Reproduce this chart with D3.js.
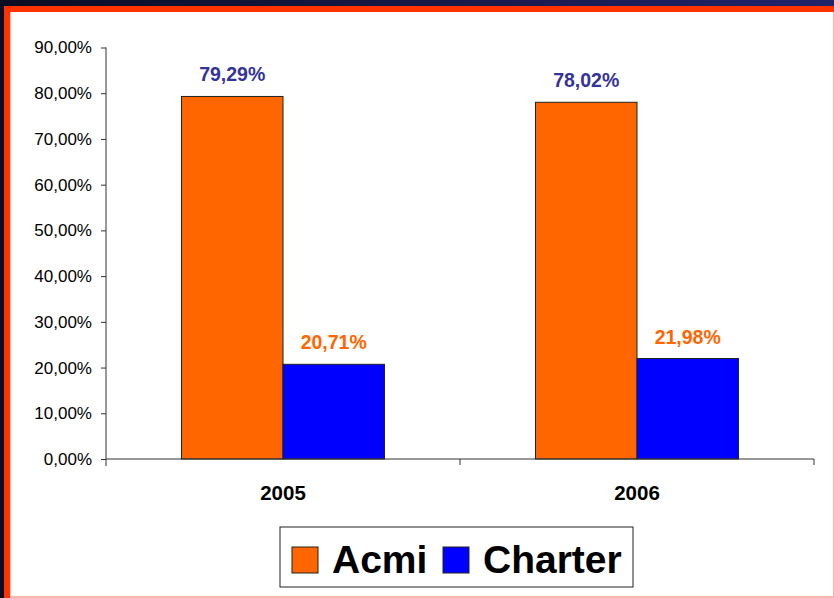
<!DOCTYPE html>
<html>
<head>
<meta charset="utf-8">
<script src="https://cdn.jsdelivr.net/npm/d3@7"></script>
<style>
  html, body { margin: 0; padding: 0; background: #1b1b4c; }
  #chart { width: 834px; height: 598px; }
  text { font-family: "Liberation Sans", Arial, sans-serif; }
</style>
</head>
<body>
<div id="chart"></div>
<script>
// chart data
const years = ["2005", "2006"];
const series = ["Acmi", "Charter"];
const acmi = [0.7929, 0.7802];
const charter = [0.2071, 0.2198];
const yTicks = [0, 0.1, 0.2, 0.3, 0.4, 0.5, 0.6, 0.7, 0.8, 0.9];

const colors = { Acmi: "#ff6600", Charter: "#0000ff" };
const labelColors = { Acmi: "#333399", Charter: "#ff6600" };

let width = 834;
let height = 598;

// italian style numbers, comma as decimal mark
const locale = d3.formatLocale({ decimal: ",", thousands: ".", grouping: [3], currency: ["€", ""] });
const pct = locale.format(".2%");

let svg = d3.select("#chart")
  .append("svg")
  .attr("width", width)
  .attr("height", height);

// dark frame at the top, red border, white slide
let grad = svg.append("defs").append("linearGradient")
  .attr("id", "topband").attr("x1", "0").attr("x2", "1");
grad.append("stop").attr("offset", "0").attr("stop-color", "#0a0d22");
grad.append("stop").attr("offset", "1").attr("stop-color", "#22246a");

svg.append("rect").attr("width", width).attr("height", height).attr("fill", "url(#topband)");
svg.append("rect").attr("x", 4).attr("y", 6).attr("width", width - 4).attr("height", height - 6).attr("fill", "#ff3300");
svg.append("rect").attr("x", 10).attr("y", 12).attr("width", width - 10).attr("height", height - 12).attr("fill", "#f7b7a8");
svg.append("rect").attr("x", 11).attr("y", 12).attr("width", width - 12).attr("height", height - 14).attr("fill", "#ffffff");

// scales
const x0 = d3.scaleBand().domain(years).range([106, 814]).paddingInner(0).paddingOuter(0);
const x1 = d3.scaleBand().domain(series).range([0, x0.bandwidth()]).paddingInner(0).paddingOuter(0.744);
const y = d3.scaleLinear().domain([0, 0.9]).range([459, 47.5]);

const rows = years.map(function(yr, i){
  return { year: yr, values: [ { key: "Acmi", v: acmi[i] }, { key: "Charter", v: charter[i] } ] };
});

// y axis
let yAxis = svg.append("g")
  .attr("transform", "translate(106,0)")
  .call(d3.axisLeft(y).tickValues(yTicks).tickFormat(pct).tickSize(5).tickSizeOuter(0).tickPadding(9));
yAxis.select(".domain").attr("stroke", "#333").attr("d", "M0,47.5V466");
yAxis.selectAll(".tick line").attr("stroke", "#333");
yAxis.selectAll(".tick text").attr("font-size", 17).attr("fill", "#000");

// bars
let groups = svg.selectAll(".year")
  .data(rows)
  .enter()
  .append("g")
  .attr("class", "year")
  .attr("transform", function(d){ return "translate(" + x0(d.year) + ",0)"; });

groups.selectAll("rect")
  .data(function(d){ return d.values; })
  .enter()
  .append("rect")
  .attr("x", function(d){ return x1(d.key); })
  .attr("y", function(d){ return y(d.v); })
  .attr("width", x1.bandwidth())
  .attr("height", function(d){ return y(0) - y(d.v); })
  .attr("fill", function(d){ return colors[d.key]; })
  .attr("stroke", "#222")
  .attr("stroke-width", 1);

groups.selectAll(".val")
  .data(function(d){ return d.values; })
  .enter()
  .append("text")
  .attr("class", "val")
  .attr("x", function(d){ return x1(d.key) + x1.bandwidth() / 2; })
  .attr("y", function(d){ return y(d.v) - 15; })
  .attr("text-anchor", "middle")
  .attr("font-size", 19.5)
  .attr("font-weight", "bold")
  .attr("fill", function(d){ return labelColors[d.key]; })
  .text(function(d){ return pct(d.v); });

// x axis
let xAxis = svg.append("g")
  .attr("transform", "translate(0,459)")
  .call(d3.axisBottom(x0).tickSize(0).tickPadding(0));
xAxis.select(".domain").attr("stroke", "#333").attr("d", "M106,0H814V6");
xAxis.selectAll(".tick text")
  .attr("dy", 0)
  .attr("y", 40.5)
  .attr("font-size", 20.5)
  .attr("font-weight", "bold")
  .attr("fill", "#000");
// tick between the two categories
xAxis.append("line")
  .attr("x1", x0("2006")).attr("x2", x0("2006"))
  .attr("y1", 0).attr("y2", 6)
  .attr("stroke", "#333");

// legend
let legend = svg.append("g").attr("transform", "translate(280,527)");
legend.append("rect")
  .attr("width", 353).attr("height", 60)
  .attr("fill", "#fff").attr("stroke", "#222").attr("stroke-width", 1);

const legendX = [12, 163];
series.forEach(function(s, i){
  let g = legend.append("g").attr("transform", "translate(" + legendX[i] + ",0)");
  g.append("rect")
    .attr("x", 0).attr("y", 20).attr("width", 26).attr("height", 26)
    .attr("fill", colors[s]).attr("stroke", "#222");
  g.append("text")
    .attr("x", 40).attr("y", 46)
    .attr("font-size", 39)
    .attr("font-weight", "bold")
    .attr("fill", "#000")
    .text(s);
});
</script>
</body>
</html>
